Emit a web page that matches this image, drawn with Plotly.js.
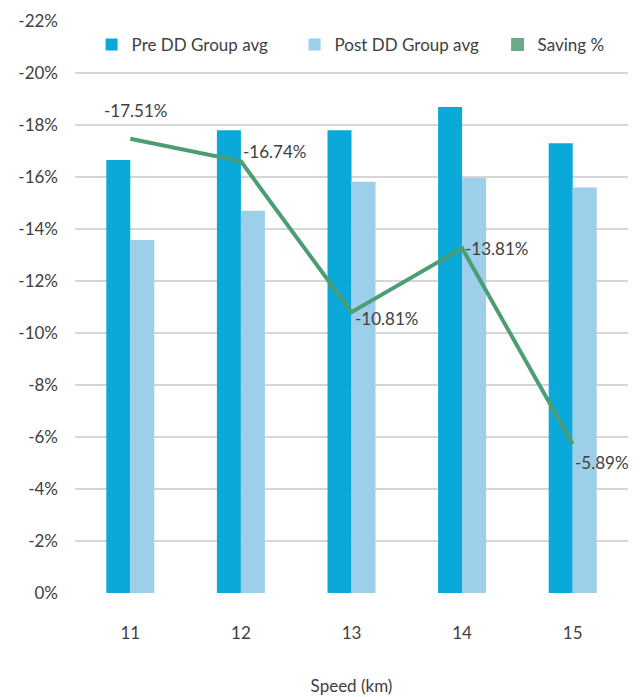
<!DOCTYPE html>
<html>
<head>
<meta charset="utf-8">
<script src="https://cdn.plot.ly/plotly-3.0.1.min.js"></script>
<style>html,body{margin:0;padding:0;background:#fff;}#chart{width:640px;height:697px;}</style>
</head>
<body>
<div id="chart"></div>
<script>
const categories = ['11', '12', '13', '14', '15'];
const preDD = [-16.65, -17.8, -17.8, -18.69, -17.3];
const postDD = [-13.58, -14.7, -15.82, -15.96, -15.6];
const saving = [-17.47, -16.6, -10.8, -13.26, -5.73];
const savingLabels = ['-17.51%', '-16.74%', '-10.81%', '-13.81%', '-5.89%'];
const yTicks = [0, -2, -4, -6, -8, -10, -12, -14, -16, -18, -20, -22];
const yTickText = ['0%', '-2%', '-4%', '-6%', '-8%', '-10%', '-12%', '-14%', '-16%', '-18%', '-20%', '-22%'];

const FONT = 'Lato, "Open Sans", sans-serif';
const TXT = '#404040';
const FS = 17;

// label placement (style only)
const lblStyle = [
  {xanchor: 'center', yanchor: 'middle', xshift: 5, yshift: 28},
  {xanchor: 'left', yanchor: 'middle', xshift: 0, yshift: 10},
  {xanchor: 'left', yanchor: 'middle', xshift: 1, yshift: -6},
  {xanchor: 'left', yanchor: 'middle', xshift: 1, yshift: 0},
  {xanchor: 'left', yanchor: 'middle', xshift: 0, yshift: -18}
];

const traces = [
  {type: 'bar', name: 'Pre DD Group avg', x: categories, y: preDD, legendwidth: 158,
   marker: {color: '#0AA9D9'}, hoverinfo: 'skip'},
  {type: 'bar', name: 'Post DD Group avg', x: categories, y: postDD, legendwidth: 158,
   marker: {color: '#9DCFEA'}, hoverinfo: 'skip'},
  {type: 'scatter', mode: 'markers', name: 'Saving %', x: [categories[0]], y: [null],
   marker: {symbol: 'square', size: 13, color: '#6BAA87'}, hoverinfo: 'skip'},
  {type: 'scatter', mode: 'lines', name: 'Saving %', x: categories, y: saving,
   line: {color: '#4B9E74', width: 4}, showlegend: false, hoverinfo: 'skip'}
];

const annotations = categories.map((c, i) => Object.assign({
  x: i, y: saving[i], xref: 'x', yref: 'y', text: savingLabels[i], showarrow: false,
  font: {family: FONT, size: FS, color: TXT}
}, lblStyle[i]));

const layout = {
  width: 640, height: 697,
  margin: {l: 75, r: 12, t: 21, b: 104},
  paper_bgcolor: '#fff', plot_bgcolor: '#fff',
  font: {family: FONT, size: FS, color: TXT},
  barmode: 'group', bargap: 0.566, bargroupgap: 0,
  showlegend: true,
  legend: {orientation: 'h', x: 0.03, xanchor: 'left', y: 0.958, yanchor: 'middle',
           traceorder: 'normal', bgcolor: 'rgba(0,0,0,0)',
           font: {family: FONT, size: FS, color: TXT}},
  xaxis: {type: 'category', range: [-0.5, 4.5], showgrid: false, zeroline: false,
          showline: false, ticks: '', ticklabelstandoff: 28,
          tickfont: {family: FONT, size: FS, color: TXT},
          title: {text: 'Speed (km)', standoff: 38, font: {family: FONT, size: FS, color: TXT}}},
  yaxis: {range: [0, -22], tickvals: yTicks, ticktext: yTickText, showgrid: true,
          gridcolor: '#d6d6d6', gridwidth: 1.5, zeroline: false, showline: false,
          ticks: '', ticklabelstandoff: 16,
          tickfont: {family: FONT, size: FS, color: TXT}},
  annotations: annotations
};

Plotly.newPlot('chart', traces, layout, {displayModeBar: false, staticPlot: true});
</script>
</body>
</html>
